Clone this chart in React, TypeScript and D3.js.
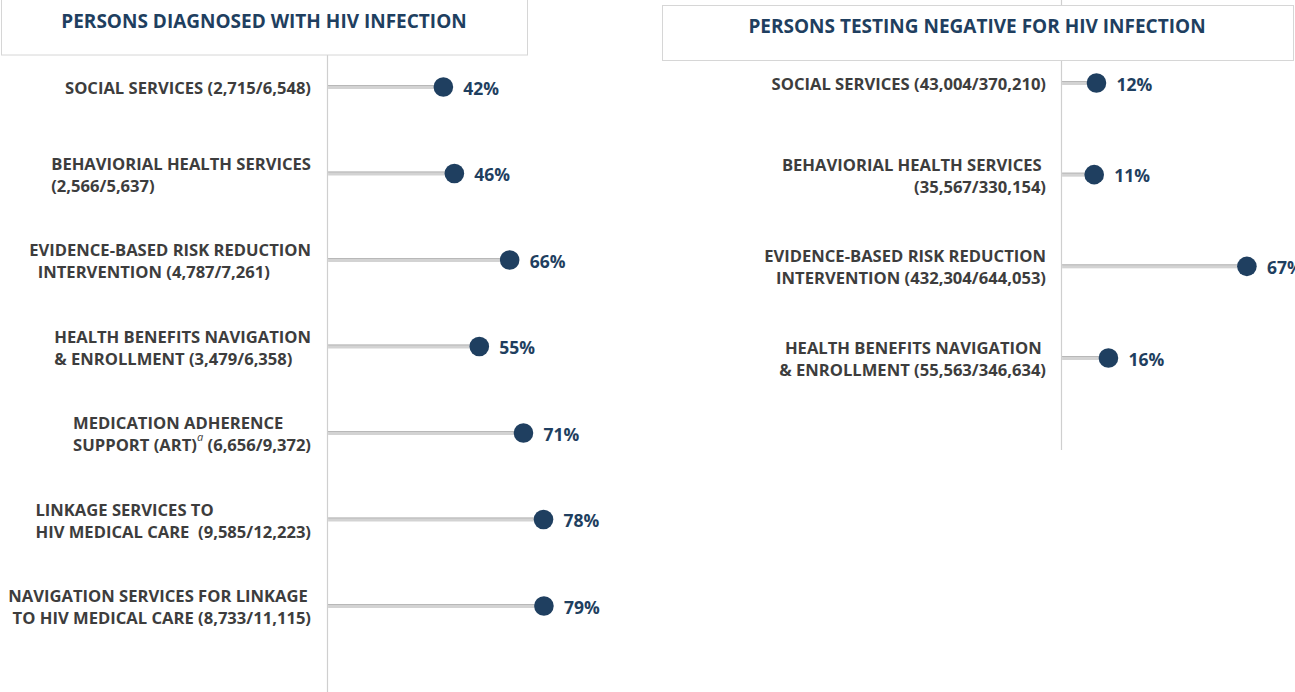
import React, { useEffect, useRef } from "react";
import * as d3 from "d3";

const W = 1295;
const H = 692;
const FONT = "'Open Sans', 'Noto Sans', sans-serif";
const NAVY = "#1f3f60";
const LABEL_COLOR = "#3d3d3d";
const AXIS_COLOR = "#cfcfcf";

// ---------- data ----------
const leftTitle = "PERSONS DIAGNOSED WITH HIV INFECTION";
const leftLabels: string[][] = [
  ["SOCIAL SERVICES (2,715/6,548)"],
  ["BEHAVIORIAL HEALTH SERVICES", "(2,566/5,637)"],
  ["EVIDENCE-BASED RISK REDUCTION", "  INTERVENTION (4,787/7,261)"],
  ["HEALTH BENEFITS NAVIGATION", "& ENROLLMENT (3,479/6,358)"],
  ["MEDICATION ADHERENCE", "SUPPORT (ART)^a (6,656/9,372)"],
  ["LINKAGE SERVICES TO", "HIV MEDICAL CARE  (9,585/12,223)"],
  ["NAVIGATION SERVICES FOR LINKAGE", " TO HIV MEDICAL CARE (8,733/11,115)"],
];
const leftNumerators = [2715, 2566, 4787, 3479, 6656, 9585, 8733];
const leftDenominators = [6548, 5637, 7261, 6358, 9372, 12223, 11115];
const leftPercentLabels = ["42%", "46%", "66%", "55%", "71%", "78%", "79%"];

const rightTitle = "PERSONS TESTING NEGATIVE FOR HIV INFECTION";
const rightLabels: string[][] = [
  ["SOCIAL SERVICES (43,004/370,210)"],
  ["BEHAVIORIAL HEALTH SERVICES ", "(35,567/330,154)"],
  ["EVIDENCE-BASED RISK REDUCTION", "INTERVENTION (432,304/644,053)"],
  ["HEALTH BENEFITS NAVIGATION ", "& ENROLLMENT (55,563/346,634)"],
];
const rightNumerators = [43004, 35567, 432304, 55563];
const rightDenominators = [370210, 330154, 644053, 346634];
const rightPercentLabels = ["12%", "11%", "67%", "16%"];

type Panel = {
  title: string;
  labels: string[][];
  num: number[];
  den: number[];
  pctLabels: string[];
  box: [number, number, number, number];
  titleX: number;
  titleY: number;
  axisX: number;
  axisTop: number;
  axisBottom: number;
  rowFirst: number;
  rowLast: number;
  labelRight: number;
  align: "block" | "right";
};

const panels: Panel[] = [
  {
    title: leftTitle,
    labels: leftLabels,
    num: leftNumerators,
    den: leftDenominators,
    pctLabels: leftPercentLabels,
    box: [1.5, -0.5, 526, 55.5],
    titleX: 264,
    titleY: 21,
    axisX: 327.5,
    axisTop: 0,
    axisBottom: H,
    rowFirst: 87,
    rowLast: 606,
    labelRight: 311,
    align: "block",
  },
  {
    title: rightTitle,
    labels: rightLabels,
    num: rightNumerators,
    den: rightDenominators,
    pctLabels: rightPercentLabels,
    box: [662.5, 5.5, 631, 55],
    titleX: 977,
    titleY: 26,
    axisX: 1061.5,
    axisTop: 0,
    axisBottom: 450,
    rowFirst: 83,
    rowLast: 358,
    labelRight: 1046,
    align: "right",
  },
];

export default function App() {
  const ref = useRef<SVGSVGElement | null>(null);

  useEffect(() => {
    const svg = d3.select(ref.current);
    svg.selectAll("*").remove();

    panels.forEach((p) => {
      const g = svg.append("g");
      const n = p.labels.length;
      const y = d3
        .scalePoint<number>()
        .domain(d3.range(n))
        .range([p.rowFirst, p.rowLast]);
      const x = d3
        .scaleLinear()
        .domain([0, 100])
        .range([p.axisX + 3.5, p.axisX + 3.5 + 271]);

      g.append("line")
        .attr("x1", p.axisX)
        .attr("x2", p.axisX)
        .attr("y1", p.axisTop)
        .attr("y2", p.axisBottom)
        .attr("stroke", AXIS_COLOR)
        .attr("stroke-width", 1.2);

      g.append("rect")
        .attr("x", p.box[0])
        .attr("y", p.box[1])
        .attr("width", p.box[2])
        .attr("height", p.box[3])
        .attr("fill", "#ffffff")
        .attr("stroke", "#d6d6d6")
        .attr("stroke-width", 1);
      g.append("text")
        .attr("x", p.titleX)
        .attr("y", p.titleY)
        .attr("text-anchor", "middle")
        .attr("dominant-baseline", "central")
        .attr("font-family", FONT)
        .attr("font-weight", 700)
        .attr("font-size", 19)
        .attr("fill", NAVY)
        .text(p.title);

      const pct = p.num.map((v, i) => (v / p.den[i]) * 100);
      const rows = d3.range(n);

      g.selectAll("rect.stem")
        .data(rows)
        .join("rect")
        .attr("class", "stem")
        .attr("x", p.axisX + 0.6)
        .attr("y", (i) => (y(i) as number) - 2)
        .attr("width", (i) => x(pct[i]) - p.axisX)
        .attr("height", 4)
        .attr("fill", "#d3d3d3");
      g.selectAll("line.stemEdge")
        .data(rows)
        .join("line")
        .attr("class", "stemEdge")
        .attr("x1", p.axisX + 0.6)
        .attr("x2", (i) => x(pct[i]))
        .attr("y1", (i) => (y(i) as number) - 1.5)
        .attr("y2", (i) => (y(i) as number) - 1.5)
        .attr("stroke", "#b8b8b8")
        .attr("stroke-width", 1);

      g.selectAll("circle.dot")
        .data(rows)
        .join("circle")
        .attr("class", "dot")
        .attr("cx", (i) => x(pct[i]))
        .attr("cy", (i) => y(i) as number)
        .attr("r", 9.8)
        .attr("fill", NAVY);

      g.selectAll("text.val")
        .data(rows)
        .join("text")
        .attr("class", "val")
        .attr("x", (i) => x(pct[i]) + 20)
        .attr("y", (i) => (y(i) as number) + 0.5)
        .attr("dominant-baseline", "central")
        .attr("font-family", FONT)
        .attr("font-weight", 700)
        .attr("font-size", 17.5)
        .attr("fill", NAVY)
        .text((i) => p.pctLabels[i]);

      rows.forEach((i) => {
        const lines = p.labels[i];
        const cy = y(i) as number;
        const lg = g.append("g");
        const texts: SVGTextElement[] = [];
        lines.forEach((line, k) => {
          const ly = cy + (k - (lines.length - 1) / 2) * 22;
          const t = lg
            .append("text")
            .attr("y", ly)
            .attr("dominant-baseline", "central")
            .attr("font-family", FONT)
            .attr("font-weight", 700)
            .attr("font-size", 16.6)
            .attr("fill", LABEL_COLOR)
            .style("white-space", "pre");
          const parts = line.split("^a");
          t.append("tspan").text(parts[0]);
          if (parts.length > 1) {
            t.append("tspan")
              .attr("font-size", 11)
              .attr("font-style", "italic")
              .attr("font-weight", 400)
              .attr("dy", -8)
              .text("a");
            t.append("tspan").attr("dy", 8).text(parts[1]);
          }
          texts.push(t.node() as SVGTextElement);
        });
        if (p.align === "block") {
          const maxW = d3.max(texts, (t) => t.getComputedTextLength()) || 0;
          texts.forEach((t) => {
            d3.select(t).attr("x", p.labelRight - maxW).attr("text-anchor", "start");
          });
        } else {
          texts.forEach((t) => {
            d3.select(t).attr("x", p.labelRight).attr("text-anchor", "end");
          });
        }
      });
    });
  }, []);

  return (
    <svg
      ref={ref}
      width={W}
      height={H}
      style={{ position: "absolute", left: 0, top: 0, background: "#ffffff" }}
    />
  );
}
